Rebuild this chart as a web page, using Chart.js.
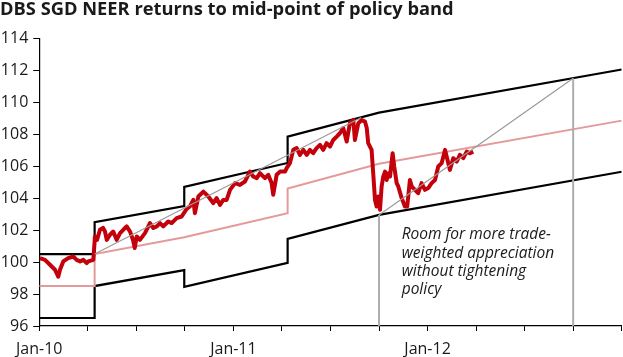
<!DOCTYPE html>
<html>
<head>
<meta charset="utf-8">
<script src="https://cdn.jsdelivr.net/npm/chart.js@4/dist/chart.umd.min.js"></script>
<style>
  html, body { margin: 0; padding: 0; background: #ffffff; }
  #c { display: block; }
</style>
</head>
<body>
<canvas id="c" width="623" height="357"></canvas>
<script>
// ---- Data (x = months since Jan-2010) ----
const titleText = "DBS SGD NEER returns to mid-point of policy band";
const xTickLabels = { 0: "Jan-10", 12: "Jan-11", 24: "Jan-12" };
const yTicks = [96, 98, 100, 102, 104, 106, 108, 110, 112, 114];

const bandMonths = [0, 3.42, 3.42, 8.96, 8.96, 15.35, 15.35, 21, 36];
const upperBand  = [100.5, 100.5, 102.5, 103.5, 104.7, 106.2, 107.85, 109.35, 112.05];
const midBand    = [98.5, 98.5, 100.5, 101.55, 101.55, 103.05, 104.6, 106.15, 108.85];
const lowerBand  = [96.5, 96.5, 98.5, 99.5, 98.45, 99.95, 101.45, 102.95, 105.65];

const neerMonths = [0.04,0.35,0.66,0.97,1.17,1.28,1.48,1.79,2.10,2.31,2.52,2.72,2.93,3.03,3.34,
  3.44,3.57,3.75,3.94,4.06,4.17,4.37,4.57,4.78,4.99,5.19,5.40,5.61,5.79,5.90,6.02,6.22,6.53,6.84,7.05,7.26,7.46,7.66,7.97,8.18,8.49,8.80,
  9.11,9.31,9.52,9.62,9.83,10.14,10.45,10.75,10.96,11.17,11.37,11.58,11.79,12.10,12.40,12.71,13.02,13.23,13.44,13.64,13.95,14.15,14.36,14.46,14.67,14.88,15.19,15.29,
  15.49,15.70,15.91,16.11,16.32,16.53,16.73,16.93,17.14,17.35,17.55,17.76,17.97,18.17,18.38,18.58,18.79,19.00,19.20,19.41,19.51,19.72,19.93,20.13,20.24,20.33,20.54,20.64,20.75,20.85,20.95,
  21.06,21.16,21.26,21.37,21.47,21.57,21.68,21.84,21.94,22.09,22.19,22.40,22.60,22.74,22.91,23.02,23.22,23.42,23.63,23.84,24.04,24.25,24.46,24.66,24.87,25.08,25.18,25.38,25.59,25.80,26.00,26.21,26.42,26.62,26.82];
const neerValues = [100.25,100.14,99.83,99.52,99.08,99.52,100.04,100.25,100.35,100.14,100.04,100.14,99.94,100.04,100.14,
  101.60,101.39,102.02,102.14,101.91,101.39,101.71,101.91,101.39,101.81,102.02,102.23,101.91,101.39,100.88,101.60,101.39,101.81,102.44,102.13,102.23,102.44,102.23,102.54,102.44,102.75,102.85,
  103.33,103.48,103.89,103.06,104.10,104.41,104.10,103.69,104.00,103.58,103.89,103.89,104.52,104.94,104.83,105.04,105.66,105.35,105.25,105.56,105.25,105.46,104.94,104.21,105.46,105.66,105.66,105.88,
  106.19,107.02,107.13,106.71,107.02,106.71,107.02,106.81,107.13,107.33,107.02,107.44,107.23,107.64,107.85,108.06,108.38,107.54,108.69,108.89,107.64,108.69,108.89,108.79,108.39,107.44,107.02,105.56,103.89,103.48,104.10,
  103.27,104.73,105.35,105.66,105.14,105.56,105.35,106.81,105.98,104.94,104.73,104.00,103.48,103.48,105.14,104.73,104.52,104.31,104.94,104.52,104.63,104.94,105.14,105.98,106.19,107.02,106.60,105.77,106.50,106.29,106.71,106.50,106.91,106.81,106.91];

// Guide lines
const guide1Months = [3.42, 19.9];
const guide1Values = [100.5, 109.05];
const guide2Months = [21, 33];
const guide2Values = [102.95, 111.5];
const vline1Months = [21, 21];
const vline1Values = [96, 102.95];
const vline2Months = [33, 33];
const vline2Values = [96, 111.5];

const annotationLines = ["Room for more trade-", "weighted appreciation", "without tightening", "policy"];

function pts(xs, ys) { return xs.map((x, i) => ({ x: x, y: ys[i] })); }

const annotationPlugin = {
  id: 'annot',
  afterDatasetsDraw(chart) {
    const ctx = chart.ctx;
    const xs = chart.scales.x, ys = chart.scales.y;
    ctx.save();
    ctx.font = 'italic 15.5px "Open Sans"';
    ctx.fillStyle = '#1a1a1a';
    ctx.textBaseline = 'middle';
    ctx.textAlign = 'left';
    const x0 = xs.getPixelForValue(22.4);
    let y0 = ys.getPixelForValue(101.7);
    annotationLines.forEach((t, i) => ctx.fillText(t, x0, y0 + i * 18.3));
    ctx.restore();
  }
};

const thinGrey = '#9a9a9a';
new Chart(document.getElementById('c'), {
  type: 'line',
  data: {
    datasets: [
      { data: pts(guide1Months, guide1Values), borderColor: thinGrey, borderWidth: 1.2 },
      { data: pts(guide2Months, guide2Values), borderColor: thinGrey, borderWidth: 1.2 },
      { data: pts(vline1Months, vline1Values), borderColor: '#adadad', borderWidth: 2 },
      { data: pts(vline2Months, vline2Values), borderColor: '#adadad', borderWidth: 2 },
      { data: pts(neerMonths, neerValues), borderColor: '#c4000b', borderWidth: 4, borderJoinStyle: 'round' },
      { data: pts(bandMonths, midBand), borderColor: '#e49a9a', borderWidth: 2 },
      { data: pts(bandMonths, upperBand), borderColor: '#000000', borderWidth: 2.2 },
      { data: pts(bandMonths, lowerBand), borderColor: '#000000', borderWidth: 2.2 }
    ]
  },
  options: {
    responsive: false,
    animation: false,
    devicePixelRatio: 1,
    layout: { padding: { left: 0, right: 1.3, top: 0, bottom: 0 } },
    elements: { point: { radius: 0 }, line: { tension: 0, fill: false } },
    plugins: {
      legend: { display: false },
      tooltip: { enabled: false },
      title: {
        display: true, text: titleText, align: 'start', color: '#1a1a1a',
        font: { family: '"Open Sans"', size: 18.3, weight: 'bold', lineHeight: 1.05 },
        padding: { top: 0, bottom: 19.1 }
      }
    },
    scales: {
      x: {
        type: 'linear', min: 0, max: 36,
        afterFit(s) { s.height = 31; s.paddingRight = 0; s.paddingLeft = 0; },
        afterBuildTicks(s) { const t = []; for (let v = 0; v <= 36; v += 3) t.push({ value: v }); s.ticks = t; },
        ticks: {
          autoSkip: false, maxRotation: 0, color: '#1a1a1a', padding: 9,
          font: { family: '"Open Sans"', size: 16 },
          callback: (v) => (xTickLabels[v] !== undefined ? xTickLabels[v] : '')
        },
        grid: { drawOnChartArea: false, drawTicks: true, tickLength: 5, color: '#000', lineWidth: 1 },
        border: { display: true, color: '#000', width: 1.2 }
      },
      y: {
        min: 96, max: 114,
        afterFit(s) { s.width = 39.3; },
        afterBuildTicks(s) { s.ticks = yTicks.map(v => ({ value: v })); },
        ticks: { color: '#1a1a1a', padding: 5, font: { family: '"Open Sans"', size: 16 } },
        grid: { drawOnChartArea: false, drawTicks: true, tickLength: 6, color: '#000', lineWidth: 1 },
        border: { display: true, color: '#000', width: 1.2 }
      }
    }
  },
  plugins: [annotationPlugin]
});
</script>
</body>
</html>
